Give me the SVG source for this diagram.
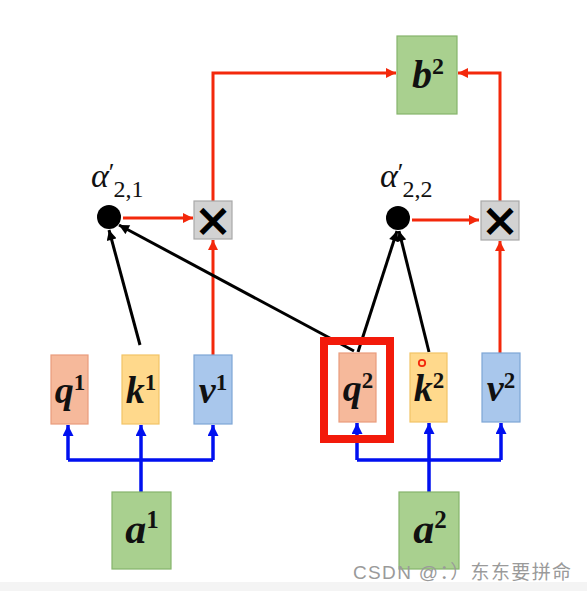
<svg xmlns="http://www.w3.org/2000/svg" width="587" height="591" viewBox="0 0 587 591">
<style>
.lbl{font-family:"Liberation Serif","DejaVu Serif",serif;font-weight:bold;font-style:italic;fill:#111;}
.sup{font-style:normal;font-weight:bold;}
.q{fill:#f6b99b;stroke:#e99c7c;stroke-width:1.2;}
.k{fill:#ffd98c;stroke:#f2c466;stroke-width:1.2;}
.v{fill:#a9c7ec;stroke:#7ea6d6;stroke-width:1.2;}
.g{fill:#a9d08f;stroke:#86b46c;stroke-width:1.2;}
.m{fill:#d2d2d2;stroke:#a9a9a9;stroke-width:1.2;}
.red{stroke:#f3280b;stroke-width:3;fill:none;}
.blk{stroke:#000;stroke-width:3;fill:none;}
.blu{stroke:#0010f0;stroke-width:3.5;fill:none;}
.alpha{font-family:"Liberation Serif","DejaVu Serif",serif;fill:#111;}
.x{font-family:"DejaVu Sans",sans-serif;font-weight:bold;fill:#000;}
</style>
<defs>
<marker id="ar" viewBox="0 0 10 10" refX="10" refY="5" markerWidth="11" markerHeight="10" markerUnits="userSpaceOnUse" orient="auto"><path d="M0,0 L10,5 L0,10 z" fill="#f3280b"/></marker>
<marker id="ab" viewBox="0 0 10 10" refX="10" refY="5" markerWidth="11" markerHeight="10" markerUnits="userSpaceOnUse" orient="auto"><path d="M0,0 L10,5 L0,10 z" fill="#000"/></marker>
<marker id="au" viewBox="0 0 10 10" refX="10" refY="5" markerWidth="11" markerHeight="11" markerUnits="userSpaceOnUse" orient="auto"><path d="M0,0 L10,5 L0,10 z" fill="#0010f0"/></marker>
</defs>
<rect x="0" y="0" width="587" height="591" fill="#fff"/>
<rect x="0" y="582" width="587" height="9" fill="#f4f4f4"/>

<g id="connectors">
<path class="red" d="M123,218 L193,218" marker-end="url(#ar)"/>
<path class="red" d="M213,355 L213,240" marker-end="url(#ar)"/>
<path class="red" d="M213,201 L213,73 L396,73" marker-end="url(#ar)"/>
<path class="red" d="M412,220 L479,220" marker-end="url(#ar)"/>
<path class="red" d="M500,353 L500,241" marker-end="url(#ar)"/>
<path class="red" d="M500,201 L500,73 L458,73" marker-end="url(#ar)"/>
<path class="blk" d="M140,345 L109,230" marker-end="url(#ab)"/>
<path class="blk" d="M354,351 L119,225" marker-end="url(#ab)"/>
<path class="blk" d="M358,352 L397,231" marker-end="url(#ab)"/>
<path class="blk" d="M429,352 L399,231" marker-end="url(#ab)"/>
<path class="blu" d="M141,492 L141,460 M68,460 L213,460"/>
<path class="blu" d="M68,460 L68,425" marker-end="url(#au)"/>
<path class="blu" d="M141,460 L141,425" marker-end="url(#au)"/>
<path class="blu" d="M213,460 L213,425" marker-end="url(#au)"/>
<path class="blu" d="M429,492 L429,460 M357,460 L501,460"/>
<path class="blu" d="M357,460 L357,423" marker-end="url(#au)"/>
<path class="blu" d="M429,460 L429,423" marker-end="url(#au)"/>
<path class="blu" d="M501,460 L501,423" marker-end="url(#au)"/>
</g>

<g id="q1"><rect class="q" x="51" y="355" width="37" height="69"/><text class="lbl" x="70" y="403" font-size="38" text-anchor="middle">q<tspan class="sup" font-size="23" dy="-13">1</tspan></text></g>
<g id="k1"><rect class="k" x="122" y="355" width="37" height="69"/><text class="lbl" x="141" y="403" font-size="38" text-anchor="middle">k<tspan class="sup" font-size="23" dy="-13">1</tspan></text></g>
<g id="v1"><rect class="v" x="194" y="355" width="38" height="69"/><text class="lbl" x="213" y="403" font-size="38" text-anchor="middle">v<tspan class="sup" font-size="23" dy="-13">1</tspan></text></g>

<g id="q2"><rect class="q" x="339" y="353" width="37" height="69"/><text class="lbl" x="358" y="401" font-size="38" text-anchor="middle">q<tspan class="sup" font-size="23" dy="-13">2</tspan></text>
<rect x="324" y="341" width="66" height="98" fill="none" stroke="#f31a0a" stroke-width="8"/></g>
<g id="k2"><rect class="k" x="410" y="353" width="37" height="69"/><text class="lbl" x="429" y="401" font-size="38" text-anchor="middle">k<tspan class="sup" font-size="23" dy="-13">2</tspan></text>
<circle cx="422" cy="363" r="3.2" fill="none" stroke="#f3280b" stroke-width="1.8"/></g>
<g id="v2"><rect class="v" x="482" y="353" width="38" height="69"/><text class="lbl" x="501" y="401" font-size="38" text-anchor="middle">v<tspan class="sup" font-size="23" dy="-13">2</tspan></text></g>

<g id="a1"><rect class="g" x="112" y="492" width="59" height="77"/><text class="lbl" x="142" y="543" font-size="42" text-anchor="middle">a<tspan class="sup" font-size="25" dy="-15">1</tspan></text></g>
<g id="a2"><rect class="g" x="399" y="492" width="60" height="77"/><text class="lbl" x="430" y="543" font-size="42" text-anchor="middle">a<tspan class="sup" font-size="25" dy="-15">2</tspan></text></g>

<g id="b2"><rect class="g" x="397" y="36" width="60" height="78"/><text class="lbl" x="428" y="88" font-size="40" text-anchor="middle">b<tspan class="sup" font-size="24" dy="-14">2</tspan></text></g>

<g id="alpha21"><circle cx="109" cy="217" r="12" fill="#000"/>
<text class="alpha" x="91" y="187" font-size="34"><tspan font-style="italic">α</tspan><tspan font-size="26" dy="-6">′</tspan><tspan font-size="24" dx="-1" dy="16">2,1</tspan></text></g>
<g id="alpha22"><circle cx="398" cy="218" r="12" fill="#000"/>
<text class="alpha" x="380" y="187" font-size="34"><tspan font-style="italic">α</tspan><tspan font-size="26" dy="-6">′</tspan><tspan font-size="24" dx="-1" dy="16">2,2</tspan></text></g>

<g id="mul1"><rect class="m" x="194" y="201" width="38" height="38"/><text class="x" x="213" y="236" font-size="46" text-anchor="middle">×</text></g>
<g id="mul2"><rect class="m" x="481" y="201" width="38" height="39"/><text class="x" x="500" y="236" font-size="46" text-anchor="middle">×</text></g>

<text x="353" y="579" font-family="Liberation Sans,Noto Sans CJK SC,sans-serif" font-size="19" fill="#9a9a9a" textLength="218" lengthAdjust="spacing">CSDN @：）东东要拼命</text>
</svg>
